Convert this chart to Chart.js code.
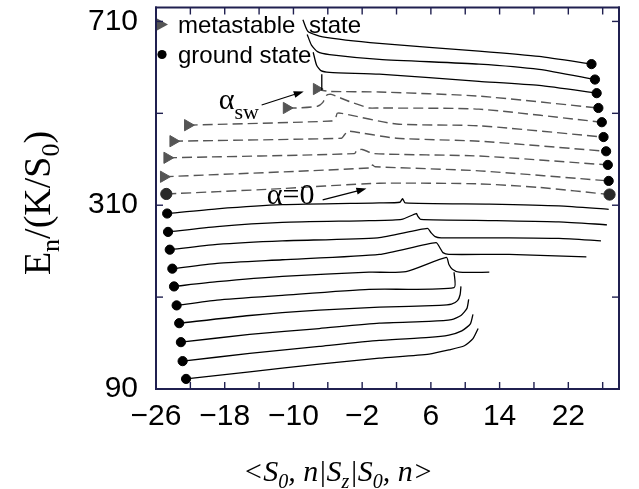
<!DOCTYPE html>
<html>
<head>
<meta charset="utf-8">
<script src="https://cdn.jsdelivr.net/npm/chart.js@4.4.0/dist/chart.umd.min.js"></script>
<style>
  html, body { margin: 0; padding: 0; background: #fff; }
  #wrap { width: 639px; height: 489px; position: relative; }
</style>
</head>
<body>
<div id="wrap"><canvas id="chart"></canvas></div>
<script>
// axis ticks
const xTicks = [-26, -22, -18, -14, -10, -6, -2, 2, 6, 10, 14, 18, 22, 26];
const xLabels = ['−26', '', '−18', '', '−10', '', '−2', '', '6', '', '14', '', '22', ''];
const yTicks = [90, 245, 400, 555, 710];
const yLabels = ['90', '', '310', '', '710'];

// ground state branches (dot at right end)
const ground1 = [[-8.9,713],[-8.3,693],[-6.6,684],[0,673],[11.6,660],[18.6,651],[24.7,638]];
const ground2 = [[-8.4,688],[-7.9,670],[-7.2,659],[-5.8,654],[0,646],[11.6,638],[18.6,629],[25.1,612]];
const ground3 = [[-7.7,658],[-7.3,636],[-6.8,627],[-5.8,624],[0,621],[11.6,609],[18.6,602],[25.3,589]];
const swStub = [[-6.7,621],[-6.7,594]];

// metastable branches (triangle at left, dot at right), dashed
const meta1 = [[-7.3,596],[-6.7,594],[-5.8,592],[0,591],[11.6,584],[25.5,564]];
const meta2 = [[-10.8,564],[-9.6,564],[-7.2,567],[-6.6,573],[-6.1,586],[-5.6,587],[-3.5,575],[-1.2,564],[0,564],[11.6,562],[25.9,540]];
const meta3 = [[-22.3,535],[-5.6,542],[-5.1,547],[-4.9,555],[-4.4,555],[2.0,537],[11.6,534],[26.1,515]];
const meta4 = [[-24.0,508],[-4.4,513],[-4.1,518],[-3.8,523],[-3.5,525],[2.0,513],[11.6,508],[26.4,491]];
const meta5 = [[-24.7,480],[-2.9,487],[-2.6,493],[-2.0,494],[-0.6,487],[11.6,483],[26.6,468]];
const meta6 = [[-25.1,448],[-0.9,463],[-0.8,468],[-0.5,465],[11.6,458],[26.7,441]];
const alphaZero = [[-24.8,419],[-12.7,427],[0,437],[11.6,436],[18.6,430],[26.8,418]];

// lower branches (dot at left end)
const low1 = [[-24.7,386],[-18.9,394],[-11.3,401],[0,404],[2.4,405],[2.7,411],[3.0,404],[12.8,402],[20.9,399],[26.7,393]];
const low2 = [[-24.6,355],[-18.9,364],[-11.3,371],[-1.2,374],[2.6,376],[4.3,386],[4.5,381],[4.8,376],[13.6,374],[20.9,372],[26.5,367]];
const low3 = [[-24.4,325],[-18.9,334],[-11.3,340],[-0.2,345],[5.6,361],[6.0,354],[6.5,347],[7.2,345],[15.1,345],[20.9,344],[25.8,340]];
const low4 = [[-24.1,293],[-18.9,302],[-11.3,308],[0,317],[6.6,337],[7.1,327],[7.4,320],[8.1,317],[15.1,317],[24.1,313]];
const low5 = [[-23.9,263],[-18.9,271],[-11.3,280],[-1.2,287],[3.1,288],[7.8,312],[8.1,300],[8.5,292],[9.3,287],[12.8,287]];
const low6 = [[-23.6,231],[-18.9,240],[-11.3,248],[-1.2,258],[8.7,261],[8.7,287]];
const low7 = [[-23.3,201],[-15.1,214],[-7.0,223],[0,228],[7.0,231],[8.4,233],[9.1,239],[9.4,249],[9.5,263]];
const low8 = [[-23.1,169],[-15.1,182],[-7.0,192],[0,201],[5.8,204],[8.4,207],[9.5,214],[10.2,226],[10.4,241]];
const low9 = [[-22.9,137],[-15.1,150],[-7.0,162],[0,172],[5.8,177],[8.1,181],[9.6,188],[10.6,200],[10.9,216]];
const low10 = [[-22.5,107],[-15.1,119],[-7.0,132],[0,142],[5.8,149],[8.1,156],[9.9,163],[10.9,175],[11.5,192]];

// annotations (data coords)
const notes = [
  { main: 'α', sub: 'sw', x: -18.7, y: 562, arrowFrom: [-13.7, 569], arrowTo: [-8.8, 592] },
  { main: 'α=0', sub: '', x: -13.1, y: 402, arrowFrom: [-6.6, 409], arrowTo: [-1.5, 428] }
];

const BLACK = '#000';
const FRAME = '#202050';
const GREY = '#555';

// marker at first / last point
function markers(n, first, last) {
  const radius = [], style = [], color = [];
  for (let i = 0; i < n; i++) {
    let m = null;
    if (i === 0 && first) m = first;
    if (i === n - 1 && last) m = last;
    radius.push(m ? m.r : 0);
    style.push(m ? m.style : 'circle');
    color.push(m ? m.color : BLACK);
  }
  return { pointRadius: radius, pointStyle: style, pointBackgroundColor: color, pointBorderColor: color };
}

const dot = { r: 4.6, style: 'circle', color: BLACK };
const bigDot = { r: 5.6, style: 'circle', color: '#2a2a2a' };
const tri = { r: 6.5, style: 'triangle', color: GREY };

function series(pts, dashed, first, last) {
  return Object.assign({
    data: pts.map(p => ({ x: p[0], y: p[1] })),
    showLine: true,
    borderColor: dashed ? GREY : BLACK,
    borderWidth: dashed ? 1.4 : 1.3,
    borderDash: dashed ? [10, 5] : [],
    tension: 0.2,
    fill: false,
    pointRotation: 90,
    pointBorderWidth: 1,
    pointHoverRadius: 0
  }, markers(pts.length, first, last));
}

const datasets = [
  series(ground1, false, null, dot),
  series(ground2, false, null, dot),
  series(ground3, false, null, dot),
  series(swStub, false, null, null),
  series(meta1, true, tri, dot),
  series(meta2, true, tri, dot),
  series(meta3, true, tri, dot),
  series(meta4, true, tri, dot),
  series(meta5, true, tri, dot),
  series(meta6, true, tri, dot),
  series(alphaZero, true, bigDot, bigDot),
  series(low1, false, dot, null),
  series(low2, false, dot, null),
  series(low3, false, dot, null),
  series(low4, false, dot, null),
  series(low5, false, dot, null),
  series(low6, false, dot, null),
  series(low7, false, dot, null),
  series(low8, false, dot, null),
  series(low9, false, dot, null),
  series(low10, false, dot, null)
];

// draw text with subscripts
function richText(ctx, parts, x, y, size, family, italic) {
  const mainFont = (italic ? 'italic ' : '') + size + 'px ' + family;
  const subFont = (italic ? 'italic ' : '') + Math.round(size * 0.68) + 'px ' + family;
  let total = 0;
  parts.forEach(p => { ctx.font = p[1] ? subFont : mainFont; total += ctx.measureText(p[0]).width; });
  let cx = x - total / 2;
  ctx.textAlign = 'left';
  ctx.textBaseline = 'alphabetic';
  parts.forEach(p => {
    ctx.font = p[1] ? subFont : mainFont;
    ctx.fillText(p[0], cx, y + (p[1] ? size * 0.24 : 0));
    cx += ctx.measureText(p[0]).width;
  });
}

function arrow(ctx, x1, y1, x2, y2) {
  const a = Math.atan2(y2 - y1, x2 - x1);
  ctx.beginPath();
  ctx.moveTo(x1, y1);
  ctx.lineTo(x2 - 6 * Math.cos(a), y2 - 6 * Math.sin(a));
  ctx.stroke();
  ctx.beginPath();
  ctx.moveTo(x2, y2);
  ctx.lineTo(x2 - 10 * Math.cos(a) + 3.5 * Math.sin(a), y2 - 10 * Math.sin(a) - 3.5 * Math.cos(a));
  ctx.lineTo(x2 - 10 * Math.cos(a) - 3.5 * Math.sin(a), y2 - 10 * Math.sin(a) + 3.5 * Math.cos(a));
  ctx.closePath();
  ctx.fill();
}

const textPlugin = {
  id: 'texts',
  afterDraw(chart) {
    const ctx = chart.ctx;
    const a = chart.chartArea;
    const xs = chart.scales.x, ys = chart.scales.y;
    ctx.save();
    ctx.setLineDash([]);
    ctx.strokeStyle = BLACK;

    // legend
    ctx.fillStyle = GREY;
    ctx.beginPath();
    ctx.moveTo(a.left + 1, a.top + 11);
    ctx.lineTo(a.left + 12, a.top + 17);
    ctx.lineTo(a.left + 1, a.top + 23);
    ctx.closePath();
    ctx.fill();
    ctx.fillStyle = BLACK;
    ctx.beginPath();
    ctx.arc(a.left + 6, a.top + 47, 4.6, 0, Math.PI * 2);
    ctx.fill();
    ctx.font = '24px "Liberation Sans", Arial, sans-serif';
    ctx.textAlign = 'left';
    ctx.textBaseline = 'alphabetic';
    ctx.fillText('metastable', a.left + 22, a.top + 25);
    ctx.fillText('state', a.left + 153, a.top + 25);
    ctx.fillText('ground state', a.left + 22, a.top + 55);

    // annotations
    notes.forEach(n => {
      const px = xs.getPixelForValue(n.x), py = ys.getPixelForValue(n.y);
      ctx.font = '30px "Liberation Serif", "Times New Roman", serif';
      ctx.fillText(n.main, px, py);
      if (n.sub) {
        const w = ctx.measureText(n.main).width;
        ctx.font = '22px "Liberation Serif", "Times New Roman", serif';
        ctx.fillText(n.sub, px + w, py + 10);
      }
      ctx.lineWidth = 1.2;
      arrow(ctx, xs.getPixelForValue(n.arrowFrom[0]), ys.getPixelForValue(n.arrowFrom[1]),
        xs.getPixelForValue(n.arrowTo[0]), ys.getPixelForValue(n.arrowTo[1]));
    });

    // axis titles
    const serif = '"Liberation Serif", "Times New Roman", serif';
    richText(ctx, [['<S', 0], ['0', 1], [', n|S', 0], ['z', 1], ['|S', 0], ['0', 1], [', n>', 0]],
      338, 481, 30, serif, true);
    ctx.save();
    ctx.translate(50, 203);
    ctx.rotate(-Math.PI / 2);
    richText(ctx, [['E', 0], ['n', 1], ['/(K/S', 0], ['0', 1], [')', 0]], 0, 0, 38, serif, false);
    ctx.restore();

    // frame box and inward ticks
    ctx.fillStyle = FRAME;
    const L = a.left, R = a.right, T = a.top, B = a.bottom;
    ctx.fillRect(L - 1, T - 1, R - L + 2, 2);
    ctx.fillRect(L - 1, B - 1, R - L + 2, 2);
    ctx.fillRect(L - 1, T - 1, 2, B - T + 2);
    ctx.fillRect(R - 1, T - 1, 2, B - T + 2);
    xTicks.forEach(v => {
      const px = xs.getPixelForValue(v);
      ctx.fillRect(px - 0.7, B - 7, 1.4, 7);
      ctx.fillRect(px - 0.7, T, 1.4, 7);
    });
    yTicks.forEach(v => {
      const py = ys.getPixelForValue(v);
      ctx.fillRect(L, py - 0.7, 7, 1.4);
      ctx.fillRect(R - 7, py - 0.7, 7, 1.4);
    });

    ctx.restore();
  }
};

Chart.defaults.color = BLACK;
Chart.defaults.font.family = '"Liberation Sans", Arial, sans-serif';

new Chart(document.getElementById('chart'), {
  type: 'scatter',
  data: { datasets: datasets },
  options: {
    responsive: true,
    maintainAspectRatio: false,
    animation: false,
    events: [],
    layout: { padding: { top: 6, right: 20, left: 0, bottom: 0 } },
    plugins: { legend: { display: false }, tooltip: { enabled: false } },
    scales: {
      x: {
        type: 'linear',
        min: -26,
        max: 27.9,
        grid: { display: false, drawTicks: false },
        border: { display: false },
        afterBuildTicks: s => { s.ticks = xTicks.map(v => ({ value: v })); },
        afterFit: s => { s.height = 100; s.paddingLeft = 0; s.paddingRight = 0; },
        ticks: {
          autoSkip: false,
          maxRotation: 0,
          padding: 10,
          font: { size: 30 },
          callback: (v) => xLabels[xTicks.indexOf(v)] ?? ''
        }
      },
      y: {
        type: 'linear',
        min: 90,
        max: 733.5,
        grid: { display: false, drawTicks: false },
        border: { display: false },
        afterBuildTicks: s => { s.ticks = yTicks.map(v => ({ value: v })); },
        afterFit: s => { s.width = 156; s.paddingTop = 0; s.paddingBottom = 0; },
        ticks: {
          autoSkip: false,
          padding: 18,
          font: { size: 30 },
          callback: (v) => yLabels[yTicks.indexOf(v)] ?? ''
        }
      }
    }
  },
  plugins: [textPlugin]
});
</script>
</body>
</html>
